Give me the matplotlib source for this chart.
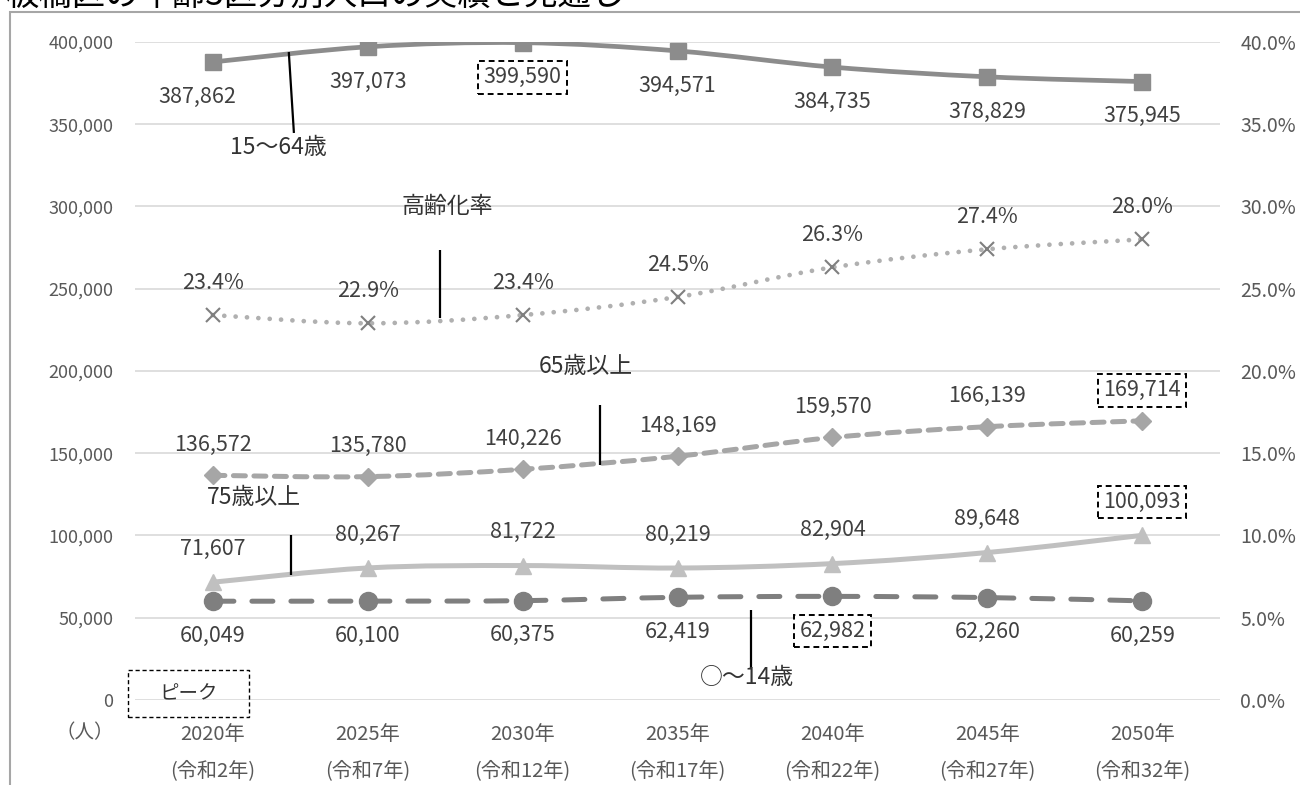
import matplotlib.pyplot as plt
import numpy as np
from matplotlib.patches import PathPatch, Rectangle
from matplotlib.path import Path

plt.rcParams["font.family"] = ["Noto Sans CJK JP", "DejaVu Sans"]

TITLE = "板橋区の年齢3区分別人口の実績と見通し"
years = ["2020年", "2025年", "2030年", "2035年", "2040年", "2045年", "2050年"]
reiwa = ["(令和2年)", "(令和7年)", "(令和12年)", "(令和17年)", "(令和22年)", "(令和27年)", "(令和32年)"]

pop_15_64 = [387862, 397073, 399590, 394571, 384735, 378829, 375945]
pop_65 = [136572, 135780, 140226, 148169, 159570, 166139, 169714]
pop_75 = [71607, 80267, 81722, 80219, 82904, 89648, 100093]
pop_0_14 = [60049, 60100, 60375, 62419, 62982, 62260, 60259]
aging_rate = [23.4, 22.9, 23.4, 24.5, 26.3, 27.4, 28.0]

# index of the value shown in a dashed "peak" box
peak_15_64 = 2
peak_0_14 = 4
peak_65 = 6
peak_75 = 6

LABEL_COLOR = "#404040"


def smooth_path(x, y):
    """Excel-style smoothed line: cubic Bezier through every point."""
    pts = np.column_stack([x, y]).astype(float)
    ext = np.vstack([pts[0], pts, pts[-1]])
    verts = [pts[0]]
    codes = [Path.MOVETO]
    for i in range(len(pts) - 1):
        p0, p1, p2, p3 = ext[i], ext[i + 1], ext[i + 2], ext[i + 3]
        verts += [p1 + (p2 - p0) / 6, p2 - (p3 - p1) / 6, p2]
        codes += [Path.CURVE4] * 3
    return Path(verts, codes)


def draw_series(ax, y, color, lw, ls, marker, ms, mcolor=None, mew=1.0):
    x = np.arange(len(y))
    patch = PathPatch(smooth_path(x, y), fill=False, edgecolor=color,
                      linewidth=lw, linestyle=ls, capstyle="round", zorder=3)
    ax.add_patch(patch)
    mc = mcolor or color
    ax.plot(x, y, linestyle="none", marker=marker, markersize=ms,
            color=mc, markeredgecolor=mc, markeredgewidth=mew, zorder=4)


def label_series(ax, y, texts, dy, peak=None, dx0=0):
    for i, (v, s) in enumerate(zip(y, texts)):
        box = None
        if i == peak:
            box = dict(boxstyle="square,pad=0.25", fc="white", ec="black",
                       ls=(0, (3, 2)), lw=1.4)
        ax.annotate(s, xy=(i, v), xytext=(dx0 if i == 0 else 0, dy),
                    textcoords="offset points", ha="center", va="center",
                    fontsize=15.5, color=LABEL_COLOR, bbox=box, zorder=6)


fig = plt.figure(figsize=(13, 7.85), dpi=100)
ax = fig.add_axes([0.1042, 0.1083, 0.8340, 0.8382])
ax2 = ax.twinx()

ax.set_xlim(-0.5, 6.5)
ax.set_ylim(0, 400000)
ax2.set_ylim(0, 40)
ax.set_yticks(np.arange(0, 400001, 50000))
ax2.set_yticks(np.arange(0, 40.1, 5))
ax.set_yticklabels([f"{v:,.0f}" for v in ax.get_yticks()])
ax2.set_yticklabels([f"{v:.1f}%" for v in ax2.get_yticks()])
ax.set_xticks(range(len(years)))
ax.set_xticklabels([f"{a}\n{b}" for a, b in zip(years, reiwa)], linespacing=1.95)
ax.tick_params(axis="x", length=0, pad=17, labelsize=14.5, labelcolor="#595959")
ax.tick_params(axis="y", length=0, pad=16, labelsize=13, labelcolor="#595959")
ax2.tick_params(axis="y", length=0, pad=15, labelsize=14, labelcolor="#595959")
for a in (ax, ax2):
    for sp in a.spines.values():
        sp.set_visible(False)
ax.grid(axis="y", color="#d9d9d9", linewidth=1.2, zorder=0)
ax.set_axisbelow(True)

# series
draw_series(ax, pop_15_64, "#8c8c8c", 3.4, "-", "s", 12)
draw_series(ax2, aging_rate, "#b0b0b0", 3.4, (0, (0.01, 2.4)), "x", 10,
            mcolor="#7f7f7f", mew=1.5)
draw_series(ax, pop_65, "#a6a6a6", 3.6, (0, (2.4, 1.7)), "D", 9)
draw_series(ax, pop_75, "#c0c0c0", 3.6, "-", "^", 11)
draw_series(ax, pop_0_14, "#7f7f7f", 3.6, (0, (4.2, 3.6)), "o", 13)

label_series(ax, pop_15_64, [f"{v:,}" for v in pop_15_64], -25, peak_15_64, dx0=-11)
label_series(ax2, aging_rate, [f"{v:.1f}%" for v in aging_rate], 23)
label_series(ax, pop_65, [f"{v:,}" for v in pop_65], 22, peak_65)
label_series(ax, pop_75, [f"{v:,}" for v in pop_75], 24, peak_75)
label_series(ax, pop_0_14, [f"{v:,}" for v in pop_0_14], -25, peak_0_14)

# series name callouts: (text, text pos, line start, line end)
callouts = [
    ("15〜64歳", (0.42, 335600), (0.49, 393900), (0.523, 344700)),
    ("高齢化率", (1.51, 300300), (1.464, 273600), (1.464, 232200)),
    ("65歳以上", (2.41, 203000), (2.497, 179300), (2.497, 142900)),
    ("75歳以上", (0.265, 122800), (0.503, 100300), (0.503, 76000)),
    ("○〜14歳", (3.445, 13400), (3.477, 54700), (3.477, 19450)),
]
for text, tpos, l0, l1 in callouts:
    ax.text(*tpos, text, ha="center", va="center", fontsize=16.5,
            color="#333333", zorder=6)
    ax.plot([l0[0], l1[0]], [l0[1], l1[1]], color="black", linewidth=1.6,
            zorder=5, solid_capstyle="butt")

# peak legend box
ax.add_patch(Rectangle((-0.0069, -0.0258), 0.1116, 0.0714, transform=ax.transAxes,
                       fill=False, ec="black", ls=(0, (3, 2)), lw=1.0,
                       clip_on=False, zorder=6))
ax.text(0.0489, 0.0099, "ピーク", transform=ax.transAxes, ha="center",
        va="center", fontsize=14, color="#333333")

fig.text(85 / 1300, 1 - 733 / 785, "（人）", ha="center", va="center",
         fontsize=14, color="#595959")

# outer chart frame and (cropped) title
fig.patches.append(Rectangle((10 / 1300, -0.02), 1.0, 1 - 12 / 785 + 0.02,
                             transform=fig.transFigure, fill=False,
                             ec="#a6a6a6", lw=1.5))
fig.text(0.004, 1 - 5 / 785, TITLE, ha="left", va="baseline", fontsize=24,
         color="black")

fig.savefig("out.png", dpi=100)
